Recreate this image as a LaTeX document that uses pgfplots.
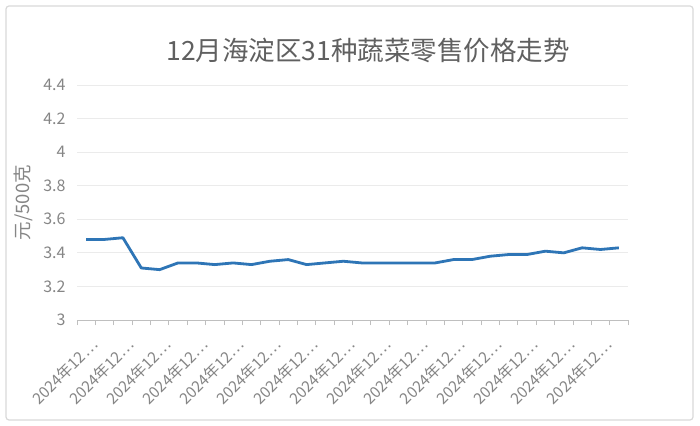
\documentclass[border=0pt]{standalone}
\usepackage{pgfplots}
\pgfplotsset{compat=1.18}
\usepackage{fontspec}
\setmainfont{Noto Sans CJK SC}
\definecolor{linecol}{RGB}{46,117,182}
\definecolor{txtgray}{RGB}{134,134,134}
\definecolor{titlegray}{RGB}{96,96,96}
\definecolor{gridgray}{RGB}{235,235,235}
\definecolor{axisgray}{RGB}{191,191,191}
\definecolor{framegray}{RGB}{217,217,217}
\begin{document}
\begin{tikzpicture}[x=1pt,y=1pt]
\path[use as bounding box] (0,0) rectangle (700,425);
\draw[framegray, line width=1.2pt, rounded corners=3pt, fill=white] (6,5) rectangle (693,419);
\node[text=titlegray, font=\fontsize{26.5}{30}\selectfont] at (368,375) {12月海淀区31种蔬菜零售价格走势};
\begin{axis}[
  at={(77pt,105pt)}, anchor=south west,
  scale only axis, width=551pt, height=235pt,
  xmin=0.5, xmax=30.5, ymin=3, ymax=4.4,
  ytick={3,3.2,...,4.4},
  xtick={1,3,...,29},
  xticklabels={2024年12…,2024年12…,2024年12…,2024年12…,2024年12…,2024年12…,2024年12…,2024年12…,2024年12…,2024年12…,2024年12…,2024年12…,2024年12…,2024年12…,2024年12…},
  minor xtick={0.5,1.5,...,30.5},
  major tick length=0pt, minor tick length=5pt,
  tick align=outside,
  minor tick style={axisgray, line width=0.8pt},
  axis lines*=left,
  x axis line style={axisgray, line width=0.8pt, -},
  y axis line style={draw=none},
  ymajorgrids, grid style={gridgray, line width=0.8pt},
  /pgf/number format/assume math mode=true,
  ticklabel style={text=txtgray},
  xticklabel style={font=\fontsize{15.5}{17}\selectfont, xshift=10.8pt, yshift=-19.7pt, rotate=45, anchor=east},
  yticklabel style={font=\fontsize{16}{18}\selectfont, xshift=-8pt},
  ylabel={元/500克},
  ylabel style={at={(axis description cs:-0.098,0.5)}, anchor=center, text=txtgray, font=\fontsize{18.5}{20}\selectfont},
  clip=false,
]
\addplot[linecol, line width=2.8pt, line join=round] coordinates {
(1,3.48) (2,3.48) (3,3.49) (4,3.31) (5,3.30) (6,3.34) (7,3.34) (8,3.33) (9,3.34) (10,3.33)
(11,3.35) (12,3.36) (13,3.33) (14,3.34) (15,3.35) (16,3.34) (17,3.34) (18,3.34) (19,3.34) (20,3.34)
(21,3.36) (22,3.36) (23,3.38) (24,3.39) (25,3.39) (26,3.41) (27,3.40) (28,3.43) (29,3.42) (30,3.43)
};
\end{axis}
\end{tikzpicture}
\end{document}
